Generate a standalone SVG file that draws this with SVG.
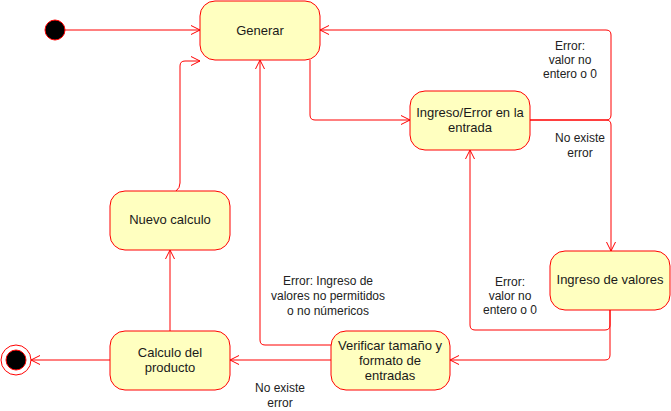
<svg xmlns="http://www.w3.org/2000/svg" width="671" height="411" viewBox="0 0 671 411">
<style>
.st{fill:#ffffc0;stroke:#ff0000;stroke-width:1}
.t{font-family:"Liberation Sans",Arial,sans-serif;font-size:12px;fill:#222222;text-anchor:middle}
.n{font-family:"Liberation Sans",Arial,sans-serif;font-size:13px;fill:#1a1a1a;text-anchor:middle}
.e{fill:none;stroke:#ff0000;stroke-width:1;marker-end:url(#arr)}
</style>
<defs>
<marker id="arr" markerUnits="userSpaceOnUse" markerWidth="12" markerHeight="12" refX="9.5" refY="5" orient="auto">
<path d="M0.5,0.5 L9.5,5 L0.5,9.5" fill="none" stroke="#ff0000" stroke-width="1"/>
</marker>
</defs>
<rect width="671" height="411" fill="#ffffff"/>
<g id="connectors">
<path class="e" d="M65,30 L200,30"/>
<path class="e" d="M310,60 L310,115 Q310,120 315,120 L410,120"/>
<path class="e" d="M530,120 L606,120 Q611,120 611,115 L611,35 Q611,30 606,30 L320,30"/>
<path class="e" d="M530,120 L606,120 Q611,120 611,125 L611,251"/>
<path class="e" d="M610,310 L610,355 Q610,360 605,360 L450,360"/>
<path class="e" d="M610,310 L610,325 Q610,330 605,330 L475,330 Q470,330 470,325 L470,150"/>
<path class="e" d="M331,345 L265,345 Q260,345 260,340 L260,60"/>
<path class="e" d="M331,360 L230,360"/>
<path class="e" d="M170,331 L170,250"/>
<path class="e" d="M176,191 Q180,188 180,183 L180,66 Q180,61 185,61 L200,61"/>
<path class="e" d="M110,360 L31,360"/>
<text class="t" x="570" y="50">Error:</text>
<text class="t" x="570" y="64">valor no</text>
<text class="t" x="570" y="78">entero o 0</text>
<text class="t" x="580" y="142">No existe</text>
<text class="t" x="580" y="157">error</text>
<text class="t" x="510" y="286">Error:</text>
<text class="t" x="510" y="300">valor no</text>
<text class="t" x="510" y="314">entero o 0</text>
<text class="t" x="328" y="285">Error: Ingreso de</text>
<text class="t" x="328" y="300">valores no permitidos</text>
<text class="t" x="328" y="315">o no númericos</text>
<text class="t" x="280" y="392">No existe</text>
<text class="t" x="280" y="407">error</text>
</g>
<g id="initial">
<circle cx="55" cy="30" r="10" fill="#000000" stroke="#ff0000" stroke-width="1"/>
</g>
<g id="generar">
<rect class="st" x="200" y="1" width="120" height="59" rx="15"/>
<text class="n" x="260" y="35">Generar</text>
</g>
<g id="ingreso-error">
<rect class="st" x="410" y="91" width="120" height="59" rx="15"/>
<text class="n" x="470" y="117">Ingreso/Error en la</text>
<text class="n" x="470" y="132">entrada</text>
</g>
<g id="ingreso-valores">
<rect class="st" x="550" y="251" width="120" height="59" rx="15"/>
<text class="n" x="610" y="284">Ingreso de valores</text>
</g>
<g id="verificar">
<rect class="st" x="331" y="331" width="119" height="59" rx="15"/>
<text class="n" x="390" y="350">Verificar tamaño y</text>
<text class="n" x="390" y="365">formato de</text>
<text class="n" x="390" y="380">entradas</text>
</g>
<g id="calculo">
<rect class="st" x="110" y="331" width="120" height="59" rx="15"/>
<text class="n" x="170" y="357">Calculo del</text>
<text class="n" x="170" y="372">producto</text>
</g>
<g id="nuevo">
<rect class="st" x="110" y="191" width="120" height="59" rx="15"/>
<text class="n" x="170" y="224">Nuevo calculo</text>
</g>
<g id="final">
<circle cx="16" cy="360" r="15" fill="#ffffff" stroke="#ff0000" stroke-width="1"/>
<circle cx="16" cy="360" r="10" fill="#000000" stroke="#ff0000" stroke-width="1"/>
</g>
</svg>
